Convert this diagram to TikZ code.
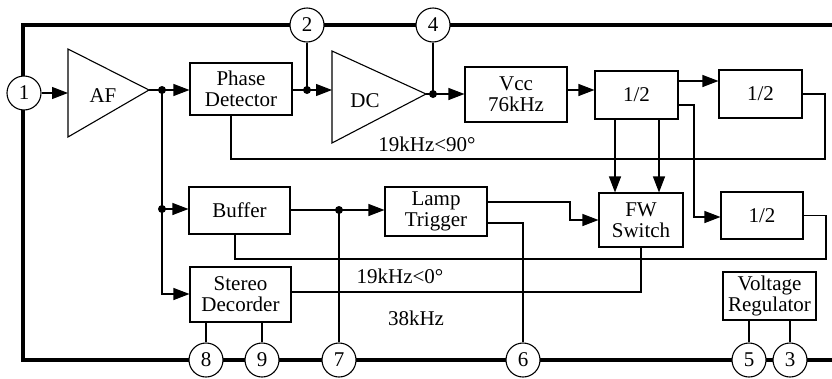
\documentclass[tikz,border=0pt]{standalone}
\usepackage{fontspec}
\newfontfamily\lsr{Liberation Serif}
\usetikzlibrary{arrows.meta,calc}
\newcommand\dfont{\lsr\fontsize{21}{21}\selectfont}
\tikzset{
 blk/.style={draw, line width=1.1pt, inner sep=0pt, align=center, font=\dfont},
 pin/.style={draw, circle, line width=1.1pt, fill=white, minimum size=34pt, inner sep=0pt, font=\dfont},
 wire/.style={line width=1.1pt},
 arr/.style={wire, -{Triangle[length=16pt,width=12pt]}},
 frame/.style={line width=4pt},
 jdot/.style={circle, fill, inner sep=0pt, minimum size=8pt},
 lbl/.style={inner sep=0pt, font=\dfont, anchor=base}
}
\begin{document}
\begin{tikzpicture}[x=1pt,y=-1pt]
\useasboundingbox (0,0) rectangle (832,378);
% frame
\draw[frame] (832,25) -- (23,25) -- (23,360) -- (832,360);
% pins
\node[pin] (p1) at (24,93) {1};
\node[pin] (p2) at (307,25) {2};
\node[pin] (p4) at (433,25) {4};
\node[pin] (p8) at (206,360) {8};
\node[pin] (p9) at (262,360) {9};
\node[pin] (p7) at (339,360) {7};
\node[pin] (p6) at (523,360) {6};
\node[pin] (p5) at (749,360) {5};
\node[pin] (p3) at (790,360) {3};
% amplifiers
\draw[wire] (68,49) -- (149,90) -- (68,137) -- cycle;
\coordinate (afin) at (68,93);
\coordinate (afout) at (149,90);
\node[lbl] (aftxt) at (103,102) {AF};
\draw[wire] (332,51) -- (426,94) -- (332,143) -- cycle;
\coordinate (dcin) at (332,90);
\coordinate (dcout) at (426,94);
\node[lbl] (dctxt) at (365,107) {DC};
% blocks
\node[blk, minimum width=102pt, minimum height=52pt] (pd) at (241,89) {Phase\\Detector};
\node[blk, minimum width=102pt, minimum height=55pt] (vcc) at (516,94.5) {Vcc\\76kHz};
\node[blk, minimum width=83pt, minimum height=48pt] (h1) at (636.5,95) {1/2};
\node[blk, minimum width=83pt, minimum height=48pt] (h2) at (760.5,94) {1/2};
\node[blk, minimum width=82pt, minimum height=47pt] (h3) at (762,215.5) {1/2};
\node[blk, minimum width=84pt, minimum height=54pt] (fw) at (641,220) {FW\\Switch};
\node[blk, minimum width=93pt, minimum height=48pt] (vr) at (769.5,296) {Voltage\\Regulator};
\node[blk, minimum width=101pt, minimum height=47pt] (buf) at (239.5,210.5) {Buffer};
\node[blk, minimum width=101pt, minimum height=55pt] (sd) at (240.5,294.5) {Stereo\\Decorder};
\node[blk, minimum width=102pt, minimum height=49pt] (lt) at (436,211.5) {Lamp\\Trigger};
% junctions
\node[jdot] (j1) at (162,90) {};
\node[jdot] (j2) at (307,90) {};
\node[jdot] (j3) at (433,94) {};
\node[jdot] (j4) at (162,209) {};
\node[jdot] (j5) at (339,210) {};
\coordinate (c1) at (825,159);
\coordinate (c2) at (694,217);
\coordinate (c3) at (826,259);
\coordinate (c4) at (162,294);
\coordinate (c5) at (570,220);
% connectors
\draw[arr] (p1.east) -- (afin);
\draw[wire] (afout) -- (j1.center);
\draw[arr] (j1.center) -- (j1 -| pd.west);
\draw[wire] (pd.east |- j2) -- (j2.center);
\draw[wire] (p2.south) -- (j2.center);
\draw[arr] (j2.center) -- (dcin);
\draw[wire] (dcout) -- (j3.center);
\draw[wire] (p4.south) -- (j3.center);
\draw[arr] (j3.center) -- (j3 -| vcc.west);
\draw[arr] ([yshift=4.5pt]vcc.east) -- ([yshift=4.5pt]vcc.east -| h1.west);
\draw[arr] ([yshift=14pt]h1.east) -- ([yshift=14pt]h1.east -| h2.west);
\draw[wire] (h2.east) -| (c1) -| ([xshift=-10pt]pd.south);
\draw[arr] ([yshift=-10pt]h1.east) -| (c2) -- (c2 -| h3.west);
\draw[wire] (h3.east) -| (c3) -| ([xshift=-4.5pt]buf.south);
\draw[arr] ([xshift=-21.5pt]h1.south) -- ([xshift=-21.5pt]h1.south |- fw.north);
\draw[arr] ([xshift=22.5pt]h1.south) -- ([xshift=22.5pt]h1.south |- fw.north);
\draw[wire] (j1.center) -- (j4.center);
\draw[arr] (j4.center) -- (j4 -| buf.west);
\draw[arr] (j4.center) -- (c4) -- (c4 -| sd.west);
\draw[wire] (buf.east |- j5) -- (j5.center);
\draw[arr] (j5.center) -- (j5 -| lt.west);
\draw[wire] (j5.center) -- (p7.north);
\draw[arr] ([yshift=9.5pt]lt.east) -| (c5) -- (c5 -| fw.west);
\draw[wire] ([yshift=-11.5pt]lt.east) -| (p6.north);
\draw[wire] (fw.south) |- ([yshift=2.5pt]sd.east);
\draw[wire] (p8.north |- sd.south) -- (p8.north);
\draw[wire] (p9.north |- sd.south) -- (p9.north);
\draw[wire] (p5.north |- vr.south) -- (p5.north);
\draw[wire] (p3.north |- vr.south) -- (p3.north);
% labels
\node[lbl] (l90) at (427,151) {19kHz<90°};
\node[lbl] (l0) at (400,283) {19kHz<0°};
\node[lbl] (l38) at (416,325) {38kHz};
\end{tikzpicture}
\end{document}
